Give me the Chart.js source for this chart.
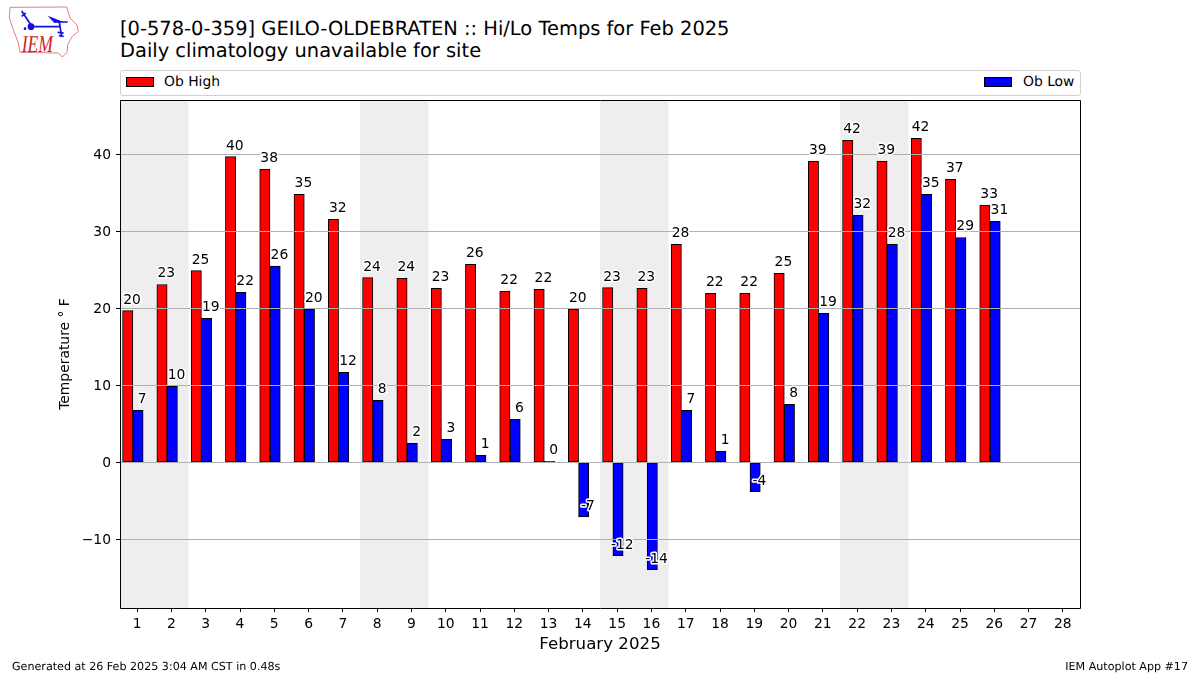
<!DOCTYPE html>
<html lang="en">
<head>
<meta charset="UTF-8">
<title>Hi/Lo Temps for Feb 2025</title>
<script src="https://cdn.jsdelivr.net/npm/chart.js@4/dist/chart.umd.min.js"></script>
<style>
    html, body { margin: 0; padding: 0; background: #fff; }
    body { width: 1200px; height: 675px; position: relative; overflow: hidden; font-family: "DejaVu Sans", sans-serif; color: #000; text-rendering: geometricPrecision; }
    canvas { position: absolute; left: 0; top: 0; }
    .txt { position: absolute; white-space: nowrap; }
    .title { left: 120px; font-size: 19.44px; line-height: 22px; }
    .foot { top: 660px; font-size: 11.11px; line-height: 13px; }
    #legend { position: absolute; left: 120px; top: 70px; width: 959px; height: 24px; border: 1px solid #d0d0d0; border-radius: 3px; background: #fff; }
    .swatch { position: absolute; top: 6px; width: 26px; height: 8px; border: 1px solid #000; box-sizing: content-box; }
    .leg { position: absolute; top: 3px; font-size: 13.89px; line-height: 16px; white-space: nowrap; }
    #logo { position: absolute; left: 5px; top: 3px; }
</style>
</head>
<body>
<svg id="logo" width="80" height="60" viewBox="0 0 240 180">
    <path d="M15 13 L185 12 L195 45 L216 66 L220 85 L202 100 L188 125 L186 148 L172 162 L160 150 L45 148 L40 120 L25 80 L13 45 Z" fill="#fff" stroke="#e08080" stroke-width="3"/>
    <path d="M50 24 L78 66 M50 40 L62 30 M78 71 L165 71 M155 57 L188 57 M163 57 L170 102 M158 88 L176 90 M162 98 L176 100" stroke="#1010e0" stroke-width="5" fill="none"/>
    <path d="M128 38 L174 56 L148 60 Z" fill="#1010e0"/>
    <circle cx="78" cy="71" r="10" fill="#1010e0"/>
    <circle cx="60" cy="77" r="4" fill="#1010e0"/>
    <text transform="translate(50 147) scale(1 1.37)" font-family="Liberation Serif" font-style="italic" font-size="53" fill="#d02020">IEM</text>
</svg>
<div class="txt title" style="top:18px">[0-578-0-359] GEILO-OLDEBRATEN :: Hi/Lo Temps for Feb 2025</div>
<div class="txt title" style="top:40px">Daily climatology unavailable for site</div>
<div id="legend"></div>
<canvas id="myChart" width="1200" height="675"></canvas>
<div class="txt foot" style="left:12px">Generated at 26 Feb 2025 3:04 AM CST in 0.48s</div>
<div class="txt foot" style="right:12px">IEM Autoplot App #17</div>
<script>
    const days = [1, 2, 3, 4, 5, 6, 7, 8, 9, 10, 11, 12, 13, 14, 15, 16, 17, 18, 19, 20, 21, 22, 23, 24, 25, 26, 27, 28];
    const obHigh = [19.7, 23.1, 24.9, 39.7, 38.05, 34.8, 31.55, 24.0, 23.9, 22.6, 25.7, 22.2, 22.47, 19.87, 22.7, 22.6, 28.3, 21.95, 21.95, 24.55, 39.1, 41.8, 39.1, 42.08, 36.75, 33.4, null, null];
    const obLow = [6.75, 9.87, 18.7, 22.08, 25.5, 19.87, 11.7, 8.05, 2.47, 2.99, 0.91, 5.58, 0.13, -7.06, -12.1, -13.94, 6.75, 1.43, -3.81, 7.53, 19.35, 32.08, 28.3, 34.8, 29.2, 31.3, null, null];
    const yTicks = [-10, 0, 10, 20, 30, 40];
    const weekends = [[0.5, 2.5], [7.5, 9.5], [14.5, 16.5], [21.5, 23.5]];

    const FONT = '"DejaVu Sans"';

    // bars sit left of the tick, same as the original plot
    function points(values, shift) {
        return days.map(function (d, i) { return { x: d + shift, y: values[i] }; });
    }

    const bandsPlugin = {
        id: 'bands',
        beforeDraw: function (chart) {
            const c = chart.ctx, x = chart.scales.x, a = chart.chartArea;
            c.save();
            c.fillStyle = '#eeeeee';
            weekends.forEach(function (w) {
                c.fillRect(x.getPixelForValue(w[0]), a.top, x.getPixelForValue(w[1]) - x.getPixelForValue(w[0]), a.bottom - a.top);
            });
            c.restore();
        }
    };

    const labelsPlugin = {
        id: 'barLabels',
        afterDraw: function (chart) {
            const c = chart.ctx, x = chart.scales.x, y = chart.scales.y, a = chart.chartArea;
            c.save();
            c.font = '13.89px ' + FONT;
            c.textAlign = 'center';
            c.textBaseline = 'alphabetic';
            c.lineJoin = 'round';
            function put(values, shift) {
                values.forEach(function (v, i) {
                    if (v === null) return;
                    const txt = String(Math.round(v));
                    const px = x.getPixelForValue(days[i] + shift);
                    const py = y.getPixelForValue(v) - 7;
                    c.strokeStyle = '#fff';
                    c.lineWidth = 3;
                    c.strokeText(txt, px, py);
                    c.fillStyle = '#000';
                    c.fillText(txt, px, py);
                });
            }
            put(obHigh, -0.15);
            put(obLow, 0.15);
            // axes frame
            c.strokeStyle = '#000';
            c.lineWidth = 1;
            c.strokeRect(Math.round(a.left) + 0.5, Math.round(a.top) + 0.5, a.right - a.left, a.bottom - a.top);
            c.restore();
        }
    };

    const ctx = document.getElementById('myChart').getContext('2d');
    ctx.textRendering = 'geometricPrecision';
    const myChart = new Chart(ctx, {
        type: 'bar',
        data: {
            datasets: [{
                label: 'Ob High',
                data: points(obHigh, -0.275),
                backgroundColor: '#ff0000',
                borderColor: '#000',
                borderWidth: 1,
                borderSkipped: false,
                barThickness: 10.3,
                grouped: false
            }, {
                label: 'Ob Low',
                data: points(obLow, 0.025),
                backgroundColor: '#0000ff',
                borderColor: '#000',
                borderWidth: 1,
                borderSkipped: false,
                barThickness: 10.3,
                grouped: false
            }]
        },
        options: {
            responsive: false,
            animation: false,
            layout: { padding: { left: 57, top: 100, right: 120, bottom: 20 } },
            plugins: { legend: { display: false }, title: { display: false }, tooltip: { enabled: false } },
            scales: {
                x: {
                    type: 'linear',
                    offset: false,
                    min: 0.5,
                    max: 28.5,
                    afterBuildTicks: function (s) { s.ticks = days.map(function (d) { return { value: d }; }); },
                    afterFit: function (s) { s.height = 47; },
                    grid: { offset: false, drawOnChartArea: false, tickColor: '#000', tickLength: 4 },
                    border: { display: false },
                    ticks: { color: '#000', font: { family: FONT, size: 13.89 }, padding: 4, maxRotation: 0, autoSkip: false, callback: function (v) { return String(v); } },
                    title: { display: true, text: 'February 2025', color: '#000', font: { family: FONT, size: 16.67 }, padding: { top: 4, bottom: 0 } }
                },
                y: {
                    min: -18.9,
                    max: 47.05,
                    afterBuildTicks: function (s) { s.ticks = yTicks.map(function (v) { return { value: v }; }); },
                    afterFit: function (s) { s.width = 63; },
                    grid: { color: '#b0b0b0', lineWidth: 1, tickColor: '#000', tickLength: 4, z: 1 },
                    border: { display: false },
                    ticks: { color: '#000', font: { family: FONT, size: 13.89 }, padding: 5, labelOffset: 1, callback: function (v) { return String(v).replace('-', '\u2212'); } },
                    title: { display: true, text: 'Temperature \u00b0 F', color: '#000', font: { family: FONT, size: 13.89 }, padding: { top: 0, bottom: 0 } }
                }
            }
        },
        plugins: [bandsPlugin, labelsPlugin]
    });

    // legend spreads to both ends of the box
    const legend = document.getElementById('legend');
    const legendPos = [{ sw: 5, tx: 43 }, { sw: 863, tx: 902 }];
    myChart.data.datasets.forEach(function (ds, i) {
        const s = document.createElement('div');
        s.className = 'swatch';
        s.style.left = legendPos[i].sw + 'px';
        s.style.background = ds.backgroundColor;
        legend.appendChild(s);
        const t = document.createElement('div');
        t.className = 'leg';
        t.style.left = legendPos[i].tx + 'px';
        t.textContent = ds.label;
        legend.appendChild(t);
    });
</script>
</body>
</html>
